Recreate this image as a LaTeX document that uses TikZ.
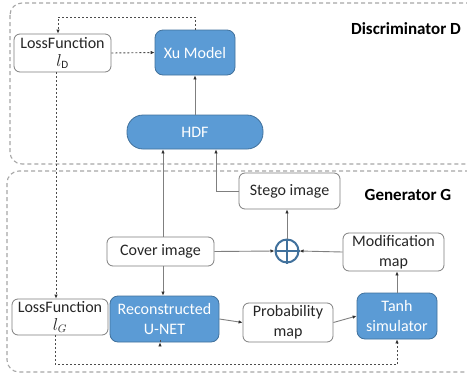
\documentclass[tikz,border=0pt]{standalone}
\usepackage{fontspec}
\setmainfont{Carlito}
\usetikzlibrary{arrows.meta,calc}
\definecolor{boxblue}{HTML}{5B9BD5}
\definecolor{boxedge}{HTML}{41719C}
\definecolor{lineg}{HTML}{7F7F7F}
\definecolor{groupg}{HTML}{A6A6A6}
\definecolor{tipg}{HTML}{303030}
\tikzset{
  x=1pt, y=-1pt,
  every node/.style={font=\fontsize{16}{20}\selectfont, inner sep=0pt, align=center},
  whitebox/.style={draw=lineg, line width=0.8pt, fill=white, rounded corners=6pt, text=black!85},
  bluebox/.style={draw=boxedge, line width=0.8pt, fill=boxblue, rounded corners=8pt, text=white},
  groupbox/.style={draw=groupg, line width=1.1pt, dash pattern=on 4pt off 3pt, rounded corners=12pt},
  conn/.style={draw=lineg, line width=0.9pt, -{Latex[length=4pt,width=3.5pt,color=tipg]}},
  dotconn/.style={draw=black!70, line width=0.9pt, dash pattern=on 2pt off 2pt, -{Latex[length=4pt,width=3.5pt,color=tipg]}},
  dotline/.style={draw=black!70, line width=0.9pt, dash pattern=on 2pt off 2pt},
  grouptitle/.style={font=\fontsize{17}{20}\selectfont\bfseries, text=black}
}
\begin{document}
\begin{tikzpicture}
\useasboundingbox (0,0) rectangle (467,376);
\fill[white] (0,0) rectangle (467,376);
\begin{scope}
\clip (0,0) rectangle (467,376);
% the two dashed groups
\draw[groupbox] (10,3) rectangle (485,164);
\draw[groupbox] (7,171) rectangle (485,372);
\end{scope}
\node[grouptitle] (dtitle) at (406,29) {Discriminator D};
\node[grouptitle] (gtitle) at (408,195) {Generator G};

% discriminator blocks
\node[whitebox, minimum width=97, minimum height=38] (LD) at (62.5,53)
  {LossFunction\\[-2pt]$l_{\mathrm{D}}$};
\node[bluebox, minimum width=80, minimum height=45] (Xu) at (195,52.5) {Xu Model};
\node[bluebox, rounded corners=16pt, minimum width=136, minimum height=34] (HDF) at (195,132) {HDF};

% generator blocks
\node[whitebox, minimum width=101, minimum height=36] (Stego) at (289.5,191) {Stego image};
\node[whitebox, minimum width=107, minimum height=29] (Cover) at (160.5,251.5) {Cover image};
\node[circle, draw=boxedge, line width=2pt, fill=white, minimum size=23] (Plus) at (287,251) {};
\draw[boxedge, line width=2pt] (Plus.north) -- (Plus.south) (Plus.west) -- (Plus.east);
\node[whitebox, minimum width=101, minimum height=38] (Mod) at (393.5,252) {Modification\\map};
\node[whitebox, minimum width=96, minimum height=36] (LG) at (60,317)
  {LossFunction\\[-2pt]$l_{G}$};
\node[bluebox, minimum width=109, minimum height=46] (Unet) at (164.5,319) {Reconstructed\\U-NET};
\node[whitebox, minimum width=90, minimum height=39] (Prob) at (288,322.5) {Probability\\map};
\node[bluebox, minimum width=80, minimum height=46] (Tanh) at (397,316) {Tanh\\simulator};

% helper coordinates for routing
\coordinate (topy) at (0,17);
\coordinate (boty) at (0,364);
\coordinate (lossx) at (56,0);
\coordinate (coverx) at (163,0);
\coordinate (stegox) at (216,0);
\coordinate (unetx) at (160,0);

% discriminator connections
\draw[dotconn] (Xu.north) |- ([xshift=-4.5]LD.north |- topy) -- ([xshift=-4.5]LD.north);
\draw[dotconn] (LD.east) -- (Xu.west);
\draw[conn] (HDF.north) -- (Xu.south);
\draw[dotconn] (LD.south -| lossx) -- (LG.north -| lossx);

% generator connections
\draw[conn] (Cover.north -| coverx) -- (HDF.south -| coverx);
\draw[conn] (Stego.west) -| (HDF.south -| stegox);
\draw[conn] (Cover.east) -- (Plus.west);
\draw[conn] (Plus.north) -- (Stego.south -| Plus.north);
\draw[conn] (Mod.west) -- (Plus.east);
\draw[conn] (Tanh.north) -- (Tanh.north |- Mod.south);
\draw[conn] (Cover.south -| coverx) -- (Unet.north -| coverx);
\draw[conn] (Unet.east) -- (Prob.west);
\draw[conn] (Prob.east) -- (Tanh.west);

% generator loss feedback
\draw[dotline] ([xshift=-5]LG.south) |- (Tanh.south |- boty);
\draw[dotconn] (Tanh.south |- boty) -- (Tanh.south);
\draw[dotconn] (Unet.south -| unetx |- boty) -- (Unet.south -| unetx);
\end{tikzpicture}
\end{document}
